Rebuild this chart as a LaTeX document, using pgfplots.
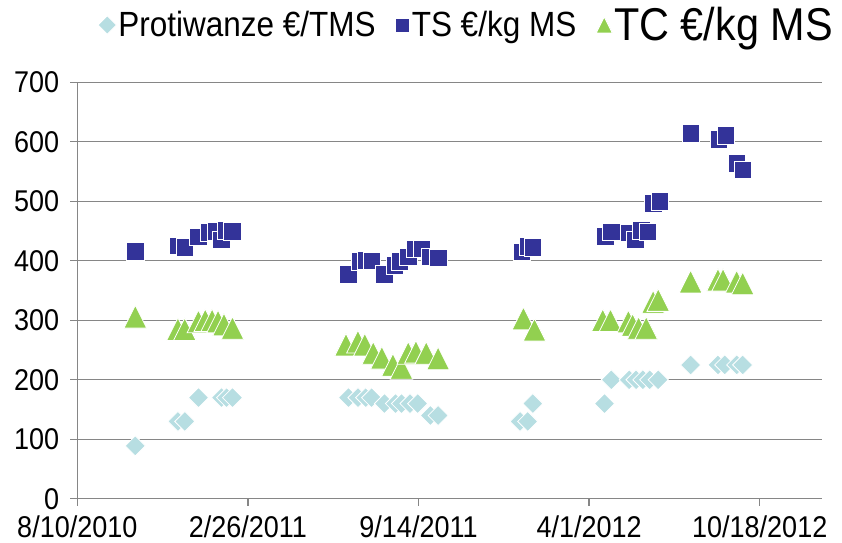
\documentclass[border=0pt]{standalone}
\usepackage{pgfplots}
\pgfplotsset{compat=1.18}
\usepackage{fontspec}
\setmainfont{Liberation Sans}
\newfontfamily\cfont{Liberation Sans}[FakeStretch=0.9]
\definecolor{protic}{RGB}{183,222,226}
\definecolor{tsc}{RGB}{51,51,153}
\definecolor{tcc}{RGB}{146,208,80}
\definecolor{gridc}{RGB}{134,134,134}
\pgfdeclareplotmark{xltri}{%
 \pgfpathmoveto{\pgfqpoint{0pt}{\pgfplotmarksize}}%
 \pgfpathlineto{\pgfqpoint{-\pgfplotmarksize}{-\pgfplotmarksize}}%
 \pgfpathlineto{\pgfqpoint{\pgfplotmarksize}{-\pgfplotmarksize}}%
 \pgfpathclose
 \pgfusepathqfillstroke}
\begin{document}
\begin{tikzpicture}
\useasboundingbox (0,0) rectangle (842bp,543bp);
\begin{axis}[
 at={(77.3bp,44.2bp)}, anchor=south west,
 scale only axis, width=744.7bp, height=416.5bp,
 xmin=0,xmax=873,ymin=0,ymax=700,
 axis x line*=bottom, axis y line*=left,
 axis line style={gridc, line width=1.3bp},
 xtick={0,200,400,600,800},
 xticklabels={8/10/2010,2/26/2011,9/14/2011,4/1/2012,10/18/2012},
 ytick={0,100,...,700},
 ymajorgrids, grid style={gridc, line width=1.3bp},
 tick align=outside, major tick length=7bp,
 tick style={gridc, line width=1.3bp},
 ticklabel style={font=\cfont\fontsize{30bp}{32bp}\selectfont, text=black, inner sep=0pt},
 xticklabel style={yshift=-10bp},
 yticklabel style={xshift=-11bp},
 /pgf/number format/assume math mode=true,
 clip=false,
 legend columns=3,
 legend style={draw=none, fill=none, at={(axis description cs:1.0215,1.1376)}, anchor=east,
   font=\cfont\fontsize{35bp}{37bp}\selectfont,
   /tikz/every even column/.append style={column sep=18bp}},
]
\addplot[only marks, mark=square*, mark size=7.1bp, mark options={rotate=45, fill=protic, draw=white, line width=0.8bp},
  legend image post style={mark size=6.5bp}] table {
x y
68 89
118 130
126 130
142 170
169 170
175 170
182 170
318 170
329 170
338 170
345 170
360 160
373 160
380 160
390 160
399 160
414 140
423 140
519 130
528 130
534 160
618 160
626 200
647 200
655 200
663 200
671 200
681 200
719 225
751 225
759 225
773 225
780 225
};
\addlegendentry{Protiwanze €/TMS}
\addplot[only marks, mark=square*, mark size=8.8bp, mark options={fill=tsc, draw=white, line width=0.6bp},
  legend image post style={mark size=7bp}] table {
x y
68 416
118 425
126 423
142 440
155 448
163 450
169 435
175 451
182 450
318 377
331 399
338 401
345 400
360 377
372 392
378 399
388 407
396 420
404 420
413 407
423 405
521 415
528 424
534 423
619 441
626 449
647 447
654 435
661 451
669 449
675 497
683 500
719 614
752 604
760 611
773 564
780 553
};
\addlegendentry{TS €/kg MS}
\addplot[only marks, mark=xltri, mark size=11.3bp, mark options={fill=tcc, draw=white, line width=0.8bp},
  legend image post style={mark size=8bp}] table {
x y
68 306
118 285
126 285
142 298
150 300
158 300
165 298
172 293
182 287
315 259
329 264
337 259
347 245
357 237
370 225
380 220
388 245
397 247
409 245
423 236
523 303
536 284
616 300
625 300
646 298
651 292
658 287
667 287
675 331
681 334
719 365
751 368
757 368
773 365
780 362
};
\addlegendentry{\fontsize{46bp}{48bp}\selectfont TC €/kg MS}
\end{axis}
\end{tikzpicture}
\end{document}
